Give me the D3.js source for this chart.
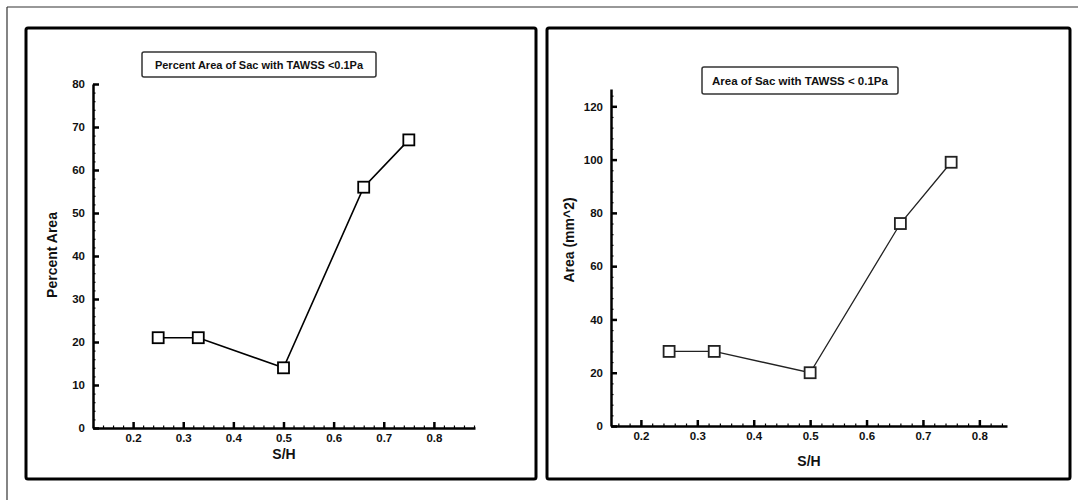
<!DOCTYPE html>
<html lang="en">
<head>
  <meta charset="UTF-8">
  <title>Area of Sac with TAWSS &lt; 0.1Pa</title>
  <script src="https://d3js.org/d3.v7.min.js"></script>
  <style>
    body { margin: 0; background: #fff; }
    svg { display: block; font-family: "Liberation Sans", Arial, sans-serif; }
    .tick text { font-weight: bold; font-size: 11.5px; fill: #111; }
    .domain { stroke: #000; stroke-width: 2.5px; }
    .tick line { stroke: #000; }
  </style>
</head>
<body>
  <svg id="chart" width="1078" height="500"></svg>

  <script>
    // S/H values shared by both plots
    const sh = [0.25, 0.33, 0.5, 0.66, 0.75];
    const percentArea = [21, 21, 14, 56, 67];
    const areaMm2 = [28, 28, 20, 76, 99];
    const xTicks = [0.2, 0.3, 0.4, 0.5, 0.6, 0.7, 0.8];
    const percentTicks = [0, 10, 20, 30, 40, 50, 60, 70, 80];
    const areaTicks = [0, 20, 40, 60, 80, 100, 120];

    const svg = d3.select("#chart");

    // thin page border (top and left only, picture is cropped)
    svg.append("line").attr("x1", 7).attr("y1", 7).attr("x2", 1078).attr("y2", 7)
      .attr("stroke", "#333").attr("stroke-width", 1.2);
    svg.append("line").attr("x1", 7).attr("y1", 7).attr("x2", 7).attr("y2", 500)
      .attr("stroke", "#333").attr("stroke-width", 1.2);

    const panels = [
      {
        frame: [26, 28, 536, 479],
        title: "Percent Area of Sac with TAWSS <0.1Pa",
        titleBox: [142, 52, 234, 25], titleSize: 11,
        ylabel: "Percent Area",
        values: percentArea,
        yTicks: percentTicks,
        yMinor: d3.range(0, 81, 2),
        xDomain: [0.12, 0.882], xRange: [93, 475],
        yDomain: [0, 80], yRange: [428, 84],
        ylabelX: 57, ylabelY: 255, xlabelY: 459,
        ink: "#000", lineW: 1.6
      },
      {
        frame: [547, 28, 1070, 479],
        title: "Area of Sac with TAWSS < 0.1Pa",
        titleBox: [702, 67, 196, 27], titleSize: 11.5,
        ylabel: "Area (mm^2)",
        values: areaMm2,
        yTicks: areaTicks,
        yMinor: d3.range(0, 127, 4),
        xDomain: [0.147, 0.849], xRange: [611, 1007],
        yDomain: [0, 126.5], yRange: [426, 89],
        ylabelX: 574, ylabelY: 240, xlabelY: 466,
        ink: "#222", lineW: 1.3
      }
    ];

    panels.forEach(p => {
      const g = svg.append("g");
      const [fx1, fy1, fx2, fy2] = p.frame;

      g.append("rect")
        .attr("x", fx1).attr("y", fy1)
        .attr("width", fx2 - fx1).attr("height", fy2 - fy1)
        .attr("rx", 2)
        .attr("fill", "none").attr("stroke", "#000").attr("stroke-width", 3);

      const x = d3.scaleLinear().domain(p.xDomain).range(p.xRange);
      const y = d3.scaleLinear().domain(p.yDomain).range(p.yRange);
      const x0 = p.xRange[0], y0 = p.yRange[0];

      // minor ticks
      g.append("g").attr("transform", `translate(0,${y0})`)
        .call(d3.axisBottom(x).tickValues(d3.range(0.12, 0.881, 0.02).filter(v => v >= p.xDomain[0] && v <= p.xDomain[1]))
          .tickSize(-2.5).tickFormat(""))
        .call(a => a.select(".domain").remove())
        .selectAll("line").attr("stroke-width", 1.2);
      g.append("g").attr("transform", `translate(${x0},0)`)
        .call(d3.axisLeft(y).tickValues(p.yMinor).tickSize(-2.5).tickFormat(""))
        .call(a => a.select(".domain").remove())
        .selectAll("line").attr("stroke-width", 1.2);

      // major axes, ticks point inwards
      const xAxis = g.append("g").attr("transform", `translate(0,${y0})`)
        .call(d3.axisBottom(x).tickValues(xTicks).tickSize(-6).tickSizeOuter(0)
          .tickPadding(6).tickFormat(d3.format(".1f")));
      xAxis.selectAll(".tick line").attr("stroke-width", 2.5);
      xAxis.select(".domain").attr("fill", "none");

      const yAxis = g.append("g").attr("transform", `translate(${x0},0)`)
        .call(d3.axisLeft(y).tickValues(p.yTicks).tickSize(-6).tickSizeOuter(0)
          .tickPadding(8));
      yAxis.selectAll(".tick line").attr("stroke-width", 2.5);
      yAxis.select(".domain").attr("fill", "none");

      // axis titles
      g.append("text")
        .attr("transform", `translate(${p.ylabelX},${p.ylabelY}) rotate(-90)`)
        .attr("text-anchor", "middle")
        .attr("font-size", 14).attr("font-weight", "bold").attr("fill", "#111")
        .text(p.ylabel);
      g.append("text")
        .attr("x", (p.xRange[0] + p.xRange[1]) / 2)
        .attr("y", p.xlabelY)
        .attr("text-anchor", "middle")
        .attr("font-size", 14).attr("font-weight", "bold").attr("fill", "#111")
        .text("S/H");

      // title box
      const [bx, by, bw, bh] = p.titleBox;
      g.append("rect")
        .attr("x", bx).attr("y", by).attr("width", bw).attr("height", bh)
        .attr("rx", 2)
        .attr("fill", "#fff").attr("stroke", "#333").attr("stroke-width", 1.5);
      g.append("text")
        .attr("x", bx + bw / 2).attr("y", by + bh / 2 + 4)
        .attr("text-anchor", "middle")
        .attr("font-size", p.titleSize).attr("font-weight", "bold").attr("fill", "#111")
        .text(p.title);

      // data
      const pts = sh.map((s, i) => [s, p.values[i]]);
      g.append("path")
        .datum(pts)
        .attr("fill", "none")
        .attr("stroke", p.ink)
        .attr("stroke-width", p.lineW)
        .attr("d", d3.line().x(d => x(d[0])).y(d => y(d[1])));

      g.selectAll("rect.pt")
        .data(pts)
        .join("rect")
        .attr("class", "pt")
        .attr("x", d => x(d[0]) - 5.5)
        .attr("y", d => y(d[1]) - 5.5)
        .attr("width", 11).attr("height", 11)
        .attr("fill", "#fff").attr("stroke", p.ink).attr("stroke-width", 1.8);
    });
  </script>
</body>
</html>
